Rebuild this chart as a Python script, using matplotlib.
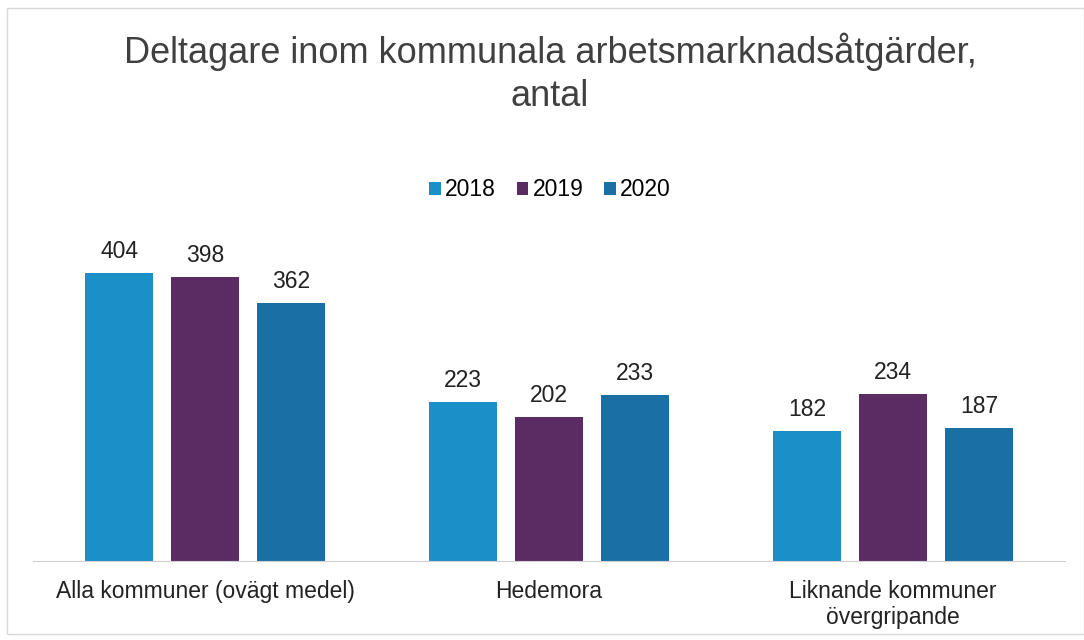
import matplotlib
matplotlib.use('Agg')
import matplotlib.pyplot as plt
import numpy as np
from matplotlib.patches import Rectangle

# ── Data ──────────────────────────────────────────────────────────────────────
categories = ['Alla kommuner (ovägt medel)', 'Hedemora', 'Liknande kommuner\növergripande']
years      = ['2018', '2019', '2020']
v2018      = [404, 223, 182]
v2019      = [398, 202, 234]
v2020      = [362, 233, 187]
colors     = ['#1b8fc8', '#5b2c64', '#1a6fa3']

plt.rcParams['font.family'] = ['Liberation Sans', 'DejaVu Sans']

fig = plt.figure(figsize=(10.84, 6.4), dpi=100)
ax = fig.add_axes([33 / 1084, 1 - 561 / 640, 1032 / 1084, 321 / 640])

x = np.arange(len(categories))
width = 0.2
for i, (yr, vals) in enumerate(zip(years, [v2018, v2019, v2020])):
    bars = ax.bar(x + (i - 1) * 0.25, vals, width, color=colors[i], label=yr)
    ax.bar_label(bars, padding=7, fontsize=16.5, color='#222222')

ax.set_xlim(-0.5, 2.5)
ax.set_ylim(0, 450)
ax.set_yticks([])
ax.set_xticks(x)
ax.set_xticklabels(categories, fontsize=16.5, color='#222222', linespacing=1.12)
ax.tick_params(axis='x', length=0, pad=14)
for s in ['top', 'right', 'left']:
    ax.spines[s].set_visible(False)
ax.spines['bottom'].set_color('#d0d0d0')

fig.text(0.5 + 8 / 1084, 1 - 73 / 640, 'Deltagare inom kommunala arbetsmarknadsåtgärder,\nantal',
         ha='center', va='center', fontsize=26, color='#404040', linespacing=1.3)

fig.legend(loc='center', bbox_to_anchor=(0.5 + 8 / 1084, 1 - 190 / 640), ncol=3, frameon=False,
           fontsize=16.5, handlelength=0.5, handleheight=0.5, handletextpad=0.2,
           columnspacing=0.9)

fig.add_artist(Rectangle((7 / 1084, 1 - 634 / 640), 1 - 7 / 1084, 626 / 640,
                         transform=fig.transFigure, fill=False,
                         edgecolor='#d8d8d8', linewidth=1))

plt.savefig('out.png', dpi=100)
